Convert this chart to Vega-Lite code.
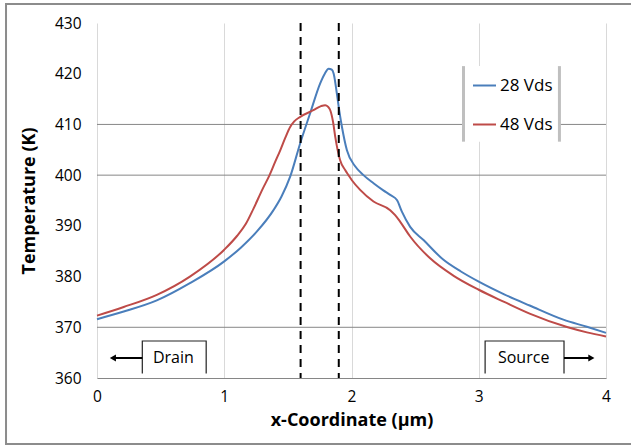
{
  "$schema": "https://vega.github.io/schema/vega-lite/v6.json",
  "width": 509,
  "height": 355,
  "autosize": {"type": "none"},
  "padding": {"left": 97, "top": 23, "right": 25, "bottom": 67},
  "background": "white",
  "config": {"view": {"stroke": null}, "font": "Open Sans"},
  "datasets": {
    "curves": [
      {"s": "28 Vds", "x": 0, "y": 371.6},
      {"s": "28 Vds", "x": 0.21, "y": 373.1},
      {"s": "28 Vds", "x": 0.47, "y": 375.3},
      {"s": "28 Vds", "x": 0.73, "y": 378.7},
      {"s": "28 Vds", "x": 1.0, "y": 383.0},
      {"s": "28 Vds", "x": 1.13, "y": 385.7},
      {"s": "28 Vds", "x": 1.257, "y": 388.9},
      {"s": "28 Vds", "x": 1.387, "y": 393.1},
      {"s": "28 Vds", "x": 1.45, "y": 395.8},
      {"s": "28 Vds", "x": 1.518, "y": 399.7},
      {"s": "28 Vds", "x": 1.597, "y": 406.3},
      {"s": "28 Vds", "x": 1.675, "y": 412.2},
      {"s": "28 Vds", "x": 1.754, "y": 418.1},
      {"s": "28 Vds", "x": 1.79, "y": 420.0},
      {"s": "28 Vds", "x": 1.82, "y": 421.0},
      {"s": "28 Vds", "x": 1.845, "y": 420.8},
      {"s": "28 Vds", "x": 1.86, "y": 420.0},
      {"s": "28 Vds", "x": 1.885, "y": 416.1},
      {"s": "28 Vds", "x": 1.905, "y": 412.5},
      {"s": "28 Vds", "x": 1.925, "y": 409.5},
      {"s": "28 Vds", "x": 1.964, "y": 404.9},
      {"s": "28 Vds", "x": 2.03, "y": 401.7},
      {"s": "28 Vds", "x": 2.094, "y": 400.0},
      {"s": "28 Vds", "x": 2.173, "y": 398.4},
      {"s": "28 Vds", "x": 2.25, "y": 397.0},
      {"s": "28 Vds", "x": 2.304, "y": 396.1},
      {"s": "28 Vds", "x": 2.357, "y": 395.1},
      {"s": "28 Vds", "x": 2.396, "y": 392.8},
      {"s": "28 Vds", "x": 2.461, "y": 389.8},
      {"s": "28 Vds", "x": 2.566, "y": 387.2},
      {"s": "28 Vds", "x": 2.723, "y": 383.3},
      {"s": "28 Vds", "x": 2.86, "y": 381.0},
      {"s": "28 Vds", "x": 3.0, "y": 379.0},
      {"s": "28 Vds", "x": 3.2, "y": 376.5},
      {"s": "28 Vds", "x": 3.4, "y": 374.3},
      {"s": "28 Vds", "x": 3.665, "y": 371.5},
      {"s": "28 Vds", "x": 3.85, "y": 370.1},
      {"s": "28 Vds", "x": 4.0, "y": 368.9},
      {"s": "48 Vds", "x": 0, "y": 372.3},
      {"s": "48 Vds", "x": 0.21, "y": 374.0},
      {"s": "48 Vds", "x": 0.47, "y": 376.4},
      {"s": "48 Vds", "x": 0.73, "y": 380.0},
      {"s": "48 Vds", "x": 1.0, "y": 385.3},
      {"s": "48 Vds", "x": 1.1, "y": 388.0},
      {"s": "48 Vds", "x": 1.17, "y": 390.4},
      {"s": "48 Vds", "x": 1.23, "y": 393.4},
      {"s": "48 Vds", "x": 1.30, "y": 397.2},
      {"s": "48 Vds", "x": 1.356, "y": 400.0},
      {"s": "48 Vds", "x": 1.40, "y": 402.6},
      {"s": "48 Vds", "x": 1.44, "y": 404.9},
      {"s": "48 Vds", "x": 1.48, "y": 407.4},
      {"s": "48 Vds", "x": 1.518, "y": 409.5},
      {"s": "48 Vds", "x": 1.55, "y": 410.6},
      {"s": "48 Vds", "x": 1.597, "y": 411.5},
      {"s": "48 Vds", "x": 1.70, "y": 412.8},
      {"s": "48 Vds", "x": 1.76, "y": 413.6},
      {"s": "48 Vds", "x": 1.793, "y": 413.8},
      {"s": "48 Vds", "x": 1.815, "y": 413.5},
      {"s": "48 Vds", "x": 1.833, "y": 412.8},
      {"s": "48 Vds", "x": 1.855, "y": 410.5},
      {"s": "48 Vds", "x": 1.872, "y": 407.6},
      {"s": "48 Vds", "x": 1.91, "y": 403.0},
      {"s": "48 Vds", "x": 1.95, "y": 401.0},
      {"s": "48 Vds", "x": 1.976, "y": 400.0},
      {"s": "48 Vds", "x": 2.003, "y": 399.0},
      {"s": "48 Vds", "x": 2.068, "y": 397.1},
      {"s": "48 Vds", "x": 2.173, "y": 394.8},
      {"s": "48 Vds", "x": 2.304, "y": 393.1},
      {"s": "48 Vds", "x": 2.343, "y": 392.1},
      {"s": "48 Vds", "x": 2.383, "y": 390.8},
      {"s": "48 Vds", "x": 2.461, "y": 387.9},
      {"s": "48 Vds", "x": 2.618, "y": 383.6},
      {"s": "48 Vds", "x": 2.8, "y": 380.2},
      {"s": "48 Vds", "x": 3.0, "y": 377.4},
      {"s": "48 Vds", "x": 3.2, "y": 375.0},
      {"s": "48 Vds", "x": 3.4, "y": 372.7},
      {"s": "48 Vds", "x": 3.7, "y": 370.0},
      {"s": "48 Vds", "x": 3.85, "y": 369.0},
      {"s": "48 Vds", "x": 4.0, "y": 368.2}
    ],
    "hlines": [{"y": 370}, {"y": 400}, {"y": 410}],
    "vdash": [{"x": 1.6}, {"x": 1.9}],
    "frame": [{"x": -0.715, "x2": 4.6, "y": 433.75, "y2": 346.98}],
    "legbox": [{"x": 2.88, "x2": 3.634, "y": 421.5, "y2": 406.6}],
    "legbars": [{"x": 2.88, "y": 421.5, "y2": 406.6}, {"x": 3.634, "y": 421.5, "y2": 406.6}],
    "boxes": [
      {"g": "d", "o": 1, "x": 0.356, "y": 360.9},
      {"g": "d", "o": 2, "x": 0.356, "y": 367.3},
      {"g": "d", "o": 3, "x": 0.858, "y": 367.3},
      {"g": "d", "o": 4, "x": 0.858, "y": 360.9},
      {"g": "s", "o": 1, "x": 3.05, "y": 360.9},
      {"g": "s", "o": 2, "x": 3.05, "y": 367.3},
      {"g": "s", "o": 3, "x": 3.67, "y": 367.3},
      {"g": "s", "o": 4, "x": 3.67, "y": 360.9}
    ],
    "arrows": [{"x": 0.356, "x2": 0.13, "y": 363.94}, {"x": 3.67, "x2": 3.88, "y": 363.94}],
    "headL": [{"x": 0.125, "y": 363.94}],
    "headR": [{"x": 3.885, "y": 363.94}],
    "labels": [{"x": 0.6, "y": 363.94, "t": "Drain"}, {"x": 3.353, "y": 363.94, "t": "Source"}]
  },
  "layer": [
    {
      "data": {"name": "frame"},
      "mark": {"type": "rect", "fill": null, "stroke": "#8c8c8c", "strokeWidth": 2},
      "encoding": {
        "x": {
          "field": "x", "type": "quantitative",
          "scale": {"domain": [0, 4], "nice": false},
          "axis": {
            "values": [0, 1, 2, 3, 4], "format": "d", "grid": true, "gridColor": "#d9d9d9", "gridWidth": 1,
            "domain": true, "domainColor": "#868686", "domainWidth": 1, "ticks": false,
            "labelFont": "Open Sans", "labelFontSize": 15.5, "labelColor": "#000000", "labelPadding": 11,
            "labelFlush": false, "labelOverlap": false,
            "title": "x-Coordinate (μm)", "titleFont": "Open Sans", "titleFontSize": 18, "titleFontWeight": "bold",
            "titleColor": "#000000", "titlePadding": 7
          }
        },
        "x2": {"field": "x2"},
        "y": {
          "field": "y", "type": "quantitative",
          "scale": {"domain": [360, 430], "nice": false},
          "axis": {
            "values": [360, 370, 380, 390, 400, 410, 420, 430], "grid": false, "domain": false, "ticks": false,
            "labelFont": "Open Sans", "labelFontSize": 15.5, "labelColor": "#000000", "labelPadding": 16,
            "labelOverlap": false, "labelFlush": false,
            "title": "Temperature (K)", "titleFont": "Open Sans", "titleFontSize": 18, "titleFontWeight": "bold",
            "titleColor": "#000000", "titlePadding": 16
          }
        },
        "y2": {"field": "y2"}
      }
    },
    {
      "data": {"name": "hlines"},
      "mark": {"type": "rule", "color": "#868686", "strokeWidth": 1},
      "encoding": {
        "y": {"field": "y", "type": "quantitative", "scale": {"domain": [360, 430], "nice": false}}
      }
    },
    {
      "data": {"name": "legbox"},
      "mark": {"type": "rect", "fill": "white", "stroke": null},
      "encoding": {
        "x": {"field": "x", "type": "quantitative", "scale": {"domain": [0, 4], "nice": false}},
        "x2": {"field": "x2"},
        "y": {"field": "y", "type": "quantitative", "scale": {"domain": [360, 430], "nice": false}},
        "y2": {"field": "y2"}
      }
    },
    {
      "data": {"name": "legbars"},
      "mark": {"type": "rule", "color": "#bfbfbf", "strokeWidth": 3},
      "encoding": {
        "x": {"field": "x", "type": "quantitative", "scale": {"domain": [0, 4], "nice": false}},
        "y": {"field": "y", "type": "quantitative", "scale": {"domain": [360, 430], "nice": false}},
        "y2": {"field": "y2"}
      }
    },
    {
      "data": {"name": "curves"},
      "mark": {"type": "line", "strokeWidth": 2, "interpolate": "monotone"},
      "encoding": {
        "x": {"field": "x", "type": "quantitative", "scale": {"domain": [0, 4], "nice": false}},
        "y": {"field": "y", "type": "quantitative", "scale": {"domain": [360, 430], "nice": false}},
        "color": {
          "field": "s", "type": "nominal",
          "scale": {"domain": ["28 Vds", "48 Vds"], "range": ["#4a7ebb", "#be4b48"]},
          "legend": {
            "orient": "none", "legendX": 375, "legendY": 50, "title": null,
            "symbolType": "stroke", "symbolSize": 529, "symbolStrokeWidth": 2,
            "labelFont": "Open Sans", "labelFontSize": 17, "labelColor": "#000000", "labelOffset": 3,
            "rowPadding": 18, "padding": 0
          }
        }
      }
    },
    {
      "data": {"name": "vdash"},
      "mark": {"type": "rule", "color": "#000000", "strokeWidth": 2, "strokeDash": [8, 6]},
      "encoding": {
        "x": {"field": "x", "type": "quantitative", "scale": {"domain": [0, 4], "nice": false}}
      }
    },
    {
      "data": {"name": "boxes"},
      "mark": {"type": "line", "color": "#222222", "strokeWidth": 1.2},
      "encoding": {
        "x": {"field": "x", "type": "quantitative", "scale": {"domain": [0, 4], "nice": false}},
        "y": {"field": "y", "type": "quantitative", "scale": {"domain": [360, 430], "nice": false}},
        "detail": {"field": "g"},
        "order": {"field": "o", "type": "quantitative"}
      }
    },
    {
      "data": {"name": "arrows"},
      "mark": {"type": "rule", "color": "#000000", "strokeWidth": 2},
      "encoding": {
        "x": {"field": "x", "type": "quantitative", "scale": {"domain": [0, 4], "nice": false}},
        "x2": {"field": "x2"},
        "y": {"field": "y", "type": "quantitative", "scale": {"domain": [360, 430], "nice": false}}
      }
    },
    {
      "data": {"name": "headL"},
      "mark": {"type": "point", "shape": "triangle-left", "filled": true, "color": "#000000", "size": 50, "opacity": 1},
      "encoding": {
        "x": {"field": "x", "type": "quantitative", "scale": {"domain": [0, 4], "nice": false}},
        "y": {"field": "y", "type": "quantitative", "scale": {"domain": [360, 430], "nice": false}}
      }
    },
    {
      "data": {"name": "headR"},
      "mark": {"type": "point", "shape": "triangle-right", "filled": true, "color": "#000000", "size": 50, "opacity": 1},
      "encoding": {
        "x": {"field": "x", "type": "quantitative", "scale": {"domain": [0, 4], "nice": false}},
        "y": {"field": "y", "type": "quantitative", "scale": {"domain": [360, 430], "nice": false}}
      }
    },
    {
      "data": {"name": "labels"},
      "mark": {"type": "text", "font": "Open Sans", "fontSize": 16, "color": "#000000", "align": "center", "baseline": "middle"},
      "encoding": {
        "x": {"field": "x", "type": "quantitative", "scale": {"domain": [0, 4], "nice": false}},
        "y": {"field": "y", "type": "quantitative", "scale": {"domain": [360, 430], "nice": false}},
        "text": {"field": "t"}
      }
    }
  ]
}
